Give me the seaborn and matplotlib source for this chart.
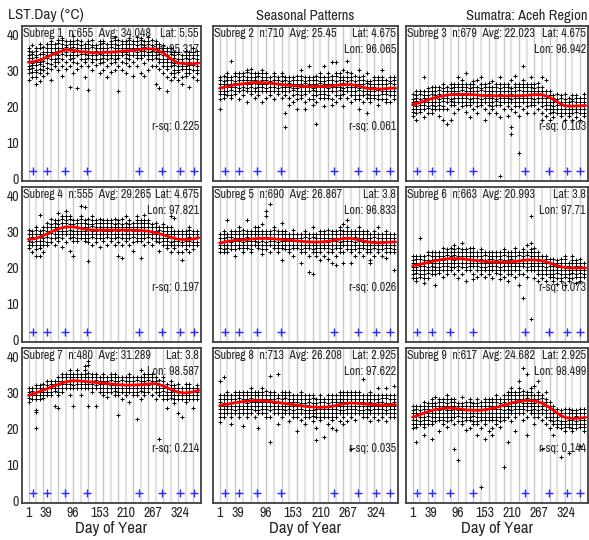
import numpy as np
import pandas as pd
import matplotlib
matplotlib.use("Agg")
import matplotlib.pyplot as plt
import matplotlib.font_manager as fm
import seaborn as sns

# ---------------- data ----------------
DAYS = list(range(1, 362, 8))  # 46 composite days
XTICKS = [1, 39, 96, 153, 210, 267, 324]
YTICKS = [0, 10, 20, 30, 40]
GRID_DAYS = list(range(1, 366, 16))
MARK_DAYS = [11, 41, 79, 127, 237, 287, 325, 354]
CURVE_DAYS = [1, 17, 33, 49, 65, 81, 97, 113, 129, 145, 161, 177, 193, 209,
              225, 241, 257, 273, 289, 305, 321, 337, 353, 365]

names = [f"Subreg {i}" for i in range(1, 10)]
n_obs = [655, 710, 679, 555, 690, 663, 480, 713, 617]
avgs = ["34.048", "25.45", "22.023", "29.265", "26.867", "20.993", "31.289", "26.208", "24.682"]
lats = ["5.55", "4.675", "4.675", "4.675", "3.8", "3.8", "3.8", "2.925", "2.925"]
lons = ["95.317", "96.065", "96.942", "97.821", "96.833", "97.71", "98.587", "97.622", "98.499"]
rsq = ["0.225", "0.061", "0.103", "0.197", "0.026", "0.073", "0.214", "0.035", "0.144"]

curve1 = [32.2, 32.5, 33.2, 34.2, 35.0, 35.7, 35.5, 35.2, 35.0, 34.8, 35.0, 35.0, 35.2, 35.4, 35.5, 35.8, 36.0, 35.8, 34.8, 33.2, 32.0, 31.8, 31.8, 32.0]
curve2 = [25.0, 25.5, 26.0, 26.2, 26.5, 26.6, 26.5, 26.3, 26.0, 25.8, 25.6, 25.5, 25.5, 25.5, 25.5, 25.8, 26.0, 26.0, 25.6, 25.0, 24.8, 24.8, 25.0, 25.0]
curve3 = [20.5, 21.0, 21.8, 22.4, 22.9, 23.2, 23.3, 23.3, 23.2, 23.0, 22.9, 22.9, 22.9, 22.9, 22.9, 23.0, 23.2, 23.2, 22.5, 21.2, 20.1, 20.0, 20.1, 20.2]
curve4 = [27.7, 28.0, 28.8, 29.8, 30.7, 31.2, 31.2, 30.8, 30.4, 30.3, 30.3, 30.3, 30.3, 30.3, 30.3, 30.2, 30.0, 29.6, 29.0, 28.3, 27.8, 27.7, 27.8, 28.2]
curve5 = [26.7, 27.2, 27.5, 27.6, 27.8, 28.0, 28.0, 27.9, 27.7, 27.5, 27.3, 27.1, 27.0, 27.0, 27.2, 27.6, 28.0, 28.0, 27.6, 27.1, 26.8, 26.8, 27.0, 27.0]
curve6 = [20.4, 20.8, 21.3, 21.8, 22.2, 22.4, 22.4, 22.2, 21.9, 21.7, 21.5, 21.4, 21.4, 21.5, 21.7, 22.0, 22.0, 21.8, 21.2, 20.4, 19.9, 19.8, 19.8, 19.8]
curve7 = [29.1, 29.8, 30.6, 31.4, 32.2, 32.9, 33.2, 33.1, 32.9, 32.7, 32.5, 32.3, 32.1, 32.0, 32.0, 32.1, 32.3, 32.4, 31.8, 30.8, 30.0, 29.8, 30.1, 30.5]
curve8 = [26.3, 26.7, 27.1, 27.4, 27.6, 27.7, 27.6, 27.3, 27.0, 26.7, 26.4, 26.1, 25.9, 25.8, 25.9, 26.3, 26.8, 27.0, 26.9, 26.7, 26.5, 26.4, 26.5, 26.5]
curve9 = [23.1, 23.8, 24.6, 25.2, 25.5, 25.6, 25.4, 25.1, 25.0, 25.0, 25.3, 25.8, 26.4, 27.0, 27.5, 27.7, 27.6, 27.0, 25.8, 24.2, 23.0, 22.7, 22.8, 23.0]
curves = [curve1, curve2, curve3, curve4, curve5, curve6, curve7, curve8, curve9]

# per-column observations (columns separated by "|", in DAYS order)
obs1 = """27.4 29.1 30.3 31.2 32.6 33.4 34.1 35.3 36.2|28.2 29.5 30.7 31.4 32.1 33.3 34.6 35.2 37.1|26.3 28.1 29.4 30.2 31.5 32.3 33.6 34.2 35.4 36.3|
27.1 29.3 30.4 31.6 32.2 33.1 34.5 36.1 37.3|28.4 30.2 31.1 32.5 33.3 34.4 35.2 36.5|29.2 30.5 32.1 33.3 34.2 35.1 36.3 37.4|
27.2 30.4 31.6 33.1 34.3 35.2 36.1 37.3 38.1|31.3 32.4 33.2 34.5 35.1 36.3 37.2|30.1 32.2 33.5 34.1 35.4 36.2 37.5 38.3|
28.3 31.1 33.2 34.4 35.3 36.1 37.2 38.4 39.1|30.4 32.3 34.1 35.2 36.4 37.1 38.2|25.2 31.3 33.1 34.3 35.5 36.2 37.4 38.1|
29.1 32.2 33.4 34.2 35.1 36.5 37.3 38.2 39.4|25.1 30.3 32.1 34.2 35.3 36.1 37.2 38.4|31.2 33.1 34.4 35.2 36.3 37.1 38.2|
28.1 32.3 33.2 34.5 35.1 36.2 37.4|24.6 31.1 33.3 34.2 35.4 36.1 37.3 38.2|30.2 32.4 33.1 34.3 35.2 36.4 37.1 38.5|
31.4 33.2 34.1 35.3 36.2 37.1|29.3 32.1 33.2 34.4 35.1 36.3 37.2 38.1|30.1 32.2 33.4 34.1 35.3 36.2 37.5 38.2|
28.2 31.3 33.1 34.2 35.4 36.1 37.2|29.4 32.1 33.3 34.2 35.1 36.4 37.2 38.1|30.2 32.4 33.1 34.3 35.2 36.1 37.3 38.4 39.2|
24.3 31.2 33.4 34.1 35.3 36.2 37.1 38.3|30.1 32.3 34.2 35.1 36.3 37.2 38.1|29.2 32.1 33.3 34.4 35.2 36.1 37.3 38.2|
31.1 33.2 34.3 35.4 36.1 37.2 38.3 39.1|28.4 32.2 34.1 35.3 36.2 37.4 38.1|31.2 33.4 34.2 35.1 36.3 37.1 38.2 39.3|
29.1 33.3 34.2 35.4 36.1 37.2 38.4 39.1|28.3 32.1 34.2 35.3 36.4 37.1 38.2|30.2 33.1 34.3 35.2 36.1 37.4 38.2 39.2|
31.3 33.2 34.1 35.4 36.2 37.1 38.3|26.2 31.1 33.3 34.2 35.1 36.3 37.2 38.1|25.1 30.3 32.2 33.1 34.4 35.2 36.1 37.3|
29.2 31.1 32.4 33.2 34.1 35.3 36.2 37.1|24.2 28.1 30.3 31.2 32.4 33.1 34.2 35.3 36.1|27.3 29.1 31.2 32.3 33.1 34.4 35.2 36.3|
28.1 29.3 30.2 31.4 32.1 33.3 34.2 35.1|27.2 29.4 30.1 31.3 32.2 33.1 34.4 35.2|26.1 28.2 30.3 31.1 32.4 33.2 34.1|
28.3 29.1 30.4 31.2 32.1 33.3 34.2 35.4|25.2 29.1 30.3 31.4 32.2 33.1 34.3 35.2|28.1 30.2 31.4 32.1 33.3 34.2 35.1 36.3|
27.2 29.3 30.1 31.2 32.4 33.1 34.2 35.3"""

obs2 = """19.2 22.1 23.3 24.2 25.1 26.3 27.2 28.1|22.2 23.4 24.1 25.3 26.2 27.1 28.3|23.1 24.2 25.4 26.1 27.3 28.2 29.1|
32.6 22.3 23.1 24.4 25.2 26.1 27.3 28.2|23.3 24.1 25.2 26.4 27.1 28.3 29.2|22.1 24.3 25.1 26.2 27.4 28.1 29.3|
23.2 24.4 25.3 26.1 27.2 28.4 29.1|21.1 24.2 25.1 26.3 27.2 28.1 29.4 30.2|23.4 24.1 25.2 26.1 27.3 28.2 29.1 30.3|
22.2 24.3 25.1 26.4 27.2 28.1 29.3|23.1 24.2 25.4 26.2 27.1 28.3 29.2|21.3 24.1 25.2 26.3 27.4 28.2 29.1 30.1|
22.4 24.2 25.1 26.2 27.3 28.1 29.2|23.2 24.1 25.3 26.4 27.1 28.2|22.1 24.3 25.2 26.1 27.2 28.4 29.1|
23.3 24.2 25.1 26.3 27.2 28.1|22.2 24.1 25.4 26.2 27.1 28.3 29.2|14.1 18.2 23.1 24.3 25.2 26.1 27.4 28.2|
20.2 22.3 24.1 25.2 26.4 27.1 28.2|21.1 23.2 24.4 25.1 26.2 27.3 28.1|19.2 22.1 23.3 24.2 25.1 26.3 27.2 28.4|
22.3 23.1 24.2 25.4 26.1 27.2 28.3 30.1|19.1 21.2 23.3 24.1 25.2 26.4 27.1 28.2|22.1 24.2 25.3 26.1 27.2 28.1 31.2|
20.3 22.1 23.2 24.4 25.1 26.2 27.3 28.1|15.1 21.2 23.1 24.2 25.3 26.1 27.2 28.4|22.2 23.3 24.1 25.2 26.4 27.1 28.2 29.1|
20.1 22.2 23.4 24.1 25.2 26.3 27.1 28.2 31.3|22.3 23.1 24.2 25.1 26.3 27.4 28.1 29.2|20.2 22.1 24.3 25.2 26.1 27.2 28.4 32.2|
21.1 23.2 24.1 25.3 26.2 27.1 28.3 29.1 32.4|22.2 23.1 24.4 25.2 26.1 27.3 28.2 29.3|20.1 23.3 24.2 25.1 26.4 27.2 28.1 30.2|
22.3 24.1 25.2 26.3 27.1 28.2 29.4 32.7|21.2 23.1 24.3 25.2 26.1 27.4 28.2 29.1|22.1 23.2 24.1 25.3 26.2 27.1 28.3|
19.3 22.1 23.2 24.4 25.1 26.2 27.3 28.1 30.2|21.2 23.1 24.2 25.3 26.1 27.2 28.4|18.1 22.2 23.3 24.1 25.2 26.4 27.1 29.2|
21.1 22.3 23.2 24.1 25.3 26.2 27.1|22.2 23.1 24.3 25.2 26.1 27.3 28.2|20.3 22.1 23.2 24.4 25.1 26.2 27.3 28.1|
22.1 23.3 24.2 25.1 26.2 27.4 28.1 30.2|21.2 22.1 23.3 24.2 25.1 26.3 27.2|21.3 23.2 24.1 25.2 26.4 27.1 28.2|
22.1 23.2 24.3 25.1 26.2 27.3 28.1"""

obs3 = """17.2 18.3 19.1 20.4 21.2 22.1 23.3|16.1 18.2 19.3 20.1 21.4 22.2 23.1 24.2|18.3 19.1 20.2 21.3 22.1 23.4 24.1|
17.1 19.2 20.3 21.1 22.2 23.1 24.3 28.2|18.2 19.4 20.1 21.2 22.3 23.1 24.2 25.1|18.1 19.2 20.4 21.1 22.2 23.3 24.1 25.4|
19.3 20.1 21.2 22.4 23.1 24.2 25.3|17.2 19.1 20.3 21.2 22.1 23.3 24.4 25.2|16.2 19.3 20.1 21.4 22.2 23.1 24.3 25.1 26.2|
15.1 19.2 21.1 22.3 23.2 24.1 25.4|16.3 20.2 21.4 22.1 23.3 24.2 25.1 26.3|18.1 20.3 21.1 22.2 23.4 24.1 25.2 26.1|
19.2 21.1 22.3 23.2 24.1 25.3 26.2 28.1|20.1 21.3 22.2 23.1 24.4 25.2 26.1 27.3|18.3 20.2 21.1 22.4 23.2 24.1 25.3 26.2 29.1|
17.1 20.2 21.3 22.1 23.4 24.2 25.1 26.3|19.2 21.1 22.2 23.3 24.1 25.4 26.2 27.1|18.2 20.1 21.3 22.2 23.1 24.3 25.2 27.3|
20.3 21.2 22.1 23.2 24.4 25.1 26.3 28.1|16.2 19.1 21.2 22.3 23.1 24.2 25.4 26.1|18.1 20.3 21.1 22.2 23.3 24.1 25.2 26.4|
19.3 20.1 21.2 22.4 23.1 24.3 25.2 27.1|18.2 20.2 21.4 22.1 23.2 24.1 25.3 26.2|0.6 17.1 20.3 21.1 22.2 23.4 24.2 25.1 26.3 28.2|
19.1 21.2 22.3 23.1 24.2 25.4 26.1|17.2 20.1 21.3 22.2 23.1 24.3 25.2 26.1|12.2 14.1 19.3 21.2 22.1 23.3 24.2 25.1 27.2|
18.3 20.1 21.2 22.4 23.1 24.2 25.3 26.1 28.3|7.0 17.2 20.1 21.3 22.2 23.1 24.4 25.2 26.1|19.1 21.3 22.2 23.1 24.3 25.2 26.1 27.2 31.3|
18.2 20.1 21.2 22.3 23.1 24.2 25.4 26.1|20.2 21.1 22.3 23.2 24.1 25.3 26.2 28.2|18.1 20.3 21.2 22.1 23.4 24.2 25.1 26.3|
19.2 21.1 22.2 23.3 24.1 25.2 26.4|16.1 18.2 20.1 21.3 22.2 23.1 24.3 25.2 28.1|17.3 19.1 20.2 21.1 22.4 23.2 24.1 27.2|
16.2 18.1 19.3 20.2 21.1 22.3 23.2 24.1|17.1 18.3 19.2 20.1 21.2 22.4 23.1|18.2 19.1 20.3 21.2 22.1 23.3|
17.3 18.1 19.2 20.4 21.1 22.2 23.1|16.1 18.2 19.1 20.3 21.2 22.1 23.4|17.2 18.1 19.3 20.2 21.1 22.3|
16.3 18.2 19.1 20.2 21.4 22.1 23.2|17.1 18.3 19.2 20.1 21.3 22.2 23.1|16.2 18.1 19.3 20.2 21.1 22.4|
17.2 18.1 19.2 20.3 21.1 22.2 23.3"""

obs4 = """25.2 26.1 27.3 28.2 29.1 30.3|24.1 26.3 27.1 28.4 29.2 30.1|23.2 25.1 26.2 27.3 28.1 29.2 30.4 31.1|
23.1 25.3 26.1 27.2 28.3 29.1 30.2 34.6|24.2 26.1 27.3 28.1 29.2 30.4 31.1|26.2 27.1 28.3 29.2 30.1 31.3 32.2|
27.1 28.2 29.4 30.1 31.2 32.1 33.3|26.3 28.1 29.2 30.3 31.1 32.4 33.1|27.2 28.4 29.1 30.2 31.3 32.1 33.2 35.1|
25.6 28.1 29.3 30.2 31.1 32.2 33.4 34.1|27.1 29.2 30.1 31.3 32.2 33.1 34.3 35.6|24.6 28.2 29.1 30.3 31.2 32.1 33.3 34.2|
23.1 27.2 28.3 29.1 30.2 31.4 32.1 33.2|27.3 28.1 29.2 30.1 31.3 32.2 33.1|28.1 29.3 30.2 31.1 32.2 33.4 34.1 37.1|
27.2 28.1 29.3 30.2 31.1 32.3 33.2 36.6|21.6 27.1 28.2 29.1 30.3 31.2 32.1 33.4|26.2 28.3 29.1 30.2 31.4 32.1 33.2 34.1|
27.1 28.2 29.3 30.1 31.2 32.3 33.1|25.6 28.1 29.2 30.4 31.1 32.2 33.3|27.3 28.1 29.2 30.1 31.3 32.2 33.1|
26.1 28.3 29.1 30.2 31.1 32.4 33.2|27.2 28.1 29.3 30.2 31.1 32.3 33.1|26.3 28.2 29.1 30.3 31.2 32.1 33.3|
23.2 27.1 28.3 29.2 30.1 31.3 32.2 33.1|22.6 26.1 28.2 29.1 30.4 31.2 32.1 33.3|27.2 28.1 29.3 30.2 31.1 32.2 34.1|
26.1 28.2 29.1 30.3 31.2 32.1 33.2|24.6 27.1 28.3 29.2 30.1 31.3 32.2|27.3 28.1 29.2 30.1 31.2 32.4 33.1 34.2|
22.6 27.2 28.1 29.3 30.2 31.1 32.3 33.2|26.2 28.1 29.2 30.1 31.3 32.2 33.1 34.6|27.1 28.3 29.1 30.2 31.1 32.3 33.2|
26.3 28.1 29.2 30.1 31.2 32.1|27.2 28.1 29.3 30.2 31.1 32.2|24.6 27.1 28.2 29.1 30.3 31.2|
26.1 27.3 28.1 29.2 30.1 31.3 32.1|25.2 26.1 27.3 28.2 29.1 30.2 31.1|24.1 26.2 27.1 28.3 29.2 30.1 31.2 34.1|
25.3 26.1 27.2 28.1 29.3 30.2 33.6|24.2 26.1 27.3 28.2 29.1 30.1|22.1 24.3 26.2 27.1 28.2 29.3 30.1|
25.1 26.3 27.2 28.1 29.2 30.2|24.2 26.1 27.2 28.3 29.1 30.3 31.1|25.1 26.2 27.1 28.2 29.3 30.1|
26.2 27.1 28.3 29.1 30.2"""

obs5 = """24.1 25.2 26.3 27.1 28.2 29.1|24.2 25.1 26.2 27.3 28.1 29.2 30.1|24.3 25.2 26.1 27.2 28.3 29.1 33.2|
25.1 26.2 27.1 28.3 29.2 30.1|23.2 25.1 26.3 27.2 28.1 29.3 30.2|25.2 26.1 27.3 28.2 29.1 30.2 31.1|
24.1 25.3 26.2 27.1 28.2 29.1 30.3|25.2 26.1 27.2 28.3 29.1 30.2 33.1|24.3 25.1 26.2 27.3 28.1 29.2 30.1|
26.1 27.3 28.2 29.1 30.2 31.1|25.2 26.3 27.1 28.2 29.3 30.1 31.2|23.6 25.1 26.2 27.3 28.1 29.2 30.1 32.1|
25.1 26.2 27.1 28.3 29.2 30.1 34.1 35.6|24.2 26.1 27.2 28.1 29.3 30.2 37.6|25.3 26.1 27.2 28.2 29.1 30.3 31.2|
24.1 25.2 26.3 27.1 28.2 29.1 30.2|22.1 25.2 26.1 27.3 28.2 29.1 30.1 32.2|25.1 26.3 27.2 28.1 29.2 30.1|
24.2 25.1 26.2 27.3 28.1 29.2|23.1 25.3 26.1 27.2 28.2 29.1 30.3|25.2 26.1 27.3 28.1 29.2|
21.1 24.2 25.1 26.3 27.2 28.1 29.2|24.1 25.2 26.1 27.2 28.3 29.1 30.1|18.6 23.1 25.2 26.1 27.3 28.2 29.1|
18.1 24.2 25.1 26.2 27.1 28.3 29.2 31.1|23.2 24.1 25.3 26.2 27.1 28.2 29.1|22.1 24.3 25.2 26.1 27.2 28.1 29.3 30.1|
23.1 25.2 26.1 27.3 28.2 29.1 30.2|22.2 24.1 25.3 26.2 27.1 28.2 29.1 30.3|21.1 24.2 25.1 26.3 27.2 28.1 29.2 30.1|
20.6 23.1 25.2 26.1 27.3 28.2 29.1 30.2|24.1 25.3 26.2 27.1 28.2 29.1 30.3 31.1|21.2 24.1 26.2 27.3 28.1 29.2 30.1 32.1|
25.1 26.2 27.3 28.1 29.2 30.1 31.2 33.1|21.1 24.2 25.1 26.3 27.2 28.1 29.2 30.1|23.2 25.1 26.2 27.1 28.3 29.2 30.1|
24.1 25.2 26.1 27.3 28.2 29.1 30.2 31.1|23.1 25.3 26.2 27.1 28.2 29.1 30.1|24.2 25.1 26.3 27.2 28.1 29.2 30.2|
21.2 22.1 24.2 25.1 26.3 27.2 28.1 29.1|23.1 25.2 26.1 27.2 28.3 29.1 30.2|24.2 25.1 26.2 27.1 28.2 29.3 31.1|
23.2 25.1 26.3 27.2 28.1 29.2|22.6 24.1 25.2 26.1 27.3 28.2 29.1 30.1|24.1 25.3 26.2 27.1 28.2 29.1|
19.1 24.2 25.1 26.2 27.3 28.1 29.2"""

obs6 = """17.1 18.2 19.3 20.1 21.2 22.1 23.2|16.2 17.1 18.3 19.2 20.1 21.2 22.3 23.1|17.2 18.1 19.2 20.3 21.1 22.2 23.1 28.1|
15.6 17.1 18.2 19.1 20.2 21.3 22.1 23.2|17.1 18.3 19.2 20.1 21.2 22.1 23.3 24.1|18.2 19.1 20.3 21.2 22.1 23.2 24.1|
15.1 18.1 19.2 20.1 21.3 22.2 23.1 24.2|18.3 19.2 20.1 21.2 22.3 23.1 24.2|17.2 19.1 20.2 21.3 22.1 23.2 24.1 25.2|
18.1 19.3 20.2 21.1 22.2 23.3 24.1 25.1|19.2 20.1 21.3 22.2 23.1 24.2 25.3|18.2 20.1 21.2 22.1 23.3 24.2 25.1 26.2|
17.1 19.3 20.2 21.1 22.2 23.1 24.3 25.2|18.2 20.1 21.2 22.3 23.1 24.2 25.1 26.6|16.1 19.2 20.1 21.3 22.2 23.1 24.2 25.1|
19.1 20.3 21.2 22.1 23.2 24.1 25.3|16.6 18.1 20.2 21.1 22.3 23.2 24.1 25.2|17.2 19.1 20.3 21.2 22.1 23.2 24.1|
18.1 19.2 20.1 21.3 22.2 23.1 24.2 25.1|17.3 19.2 20.1 21.2 22.1 23.3 24.2|18.2 19.1 20.3 21.1 22.2 23.1 24.3|
17.1 19.3 20.2 21.1 22.3 23.2 24.1|18.3 19.1 20.2 21.3 22.1 23.2 24.1|16.6 18.1 19.2 20.1 21.2 22.3 23.1 24.2|
17.2 19.1 20.3 21.2 22.1 23.3 24.2 25.1|16.1 18.2 19.1 20.2 21.3 22.1 23.2 24.1|18.1 19.3 20.2 21.1 22.2 23.1 24.3|
17.3 19.1 20.2 21.3 22.1 23.2 24.1 25.2|15.1 18.2 19.1 20.3 21.2 22.1 23.3 24.2|11.5 18.1 20.2 21.1 22.3 23.2 24.1 25.1|
17.2 19.3 20.1 21.2 22.1 23.3 24.2 26.1|5.6 19.1 20.2 21.3 22.2 23.1 24.2 25.1 26.6 34.1|17.1 19.2 20.3 21.1 22.2 23.1 24.3 25.2|
16.2 18.1 19.3 20.2 21.1 22.2 23.1 24.1|17.1 18.2 19.1 20.3 21.2 22.1 23.2|16.3 18.1 19.2 20.1 21.3 22.2 23.1|
17.2 18.1 19.3 20.2 21.1 22.2|16.1 17.3 18.2 19.1 20.2 21.1 22.3|15.2 17.1 18.3 19.2 20.1 21.2 22.1|
16.2 17.1 18.2 19.3 20.1 21.2 22.2|15.1 17.2 18.1 19.2 20.3 21.1 22.2 23.1|16.3 17.1 18.2 19.1 20.2 21.3|
17.1 18.3 19.2 20.1 21.2 22.1 23.2|15.6 17.2 18.1 19.3 20.2 21.1 22.1|16.1 17.2 18.3 19.1 20.2 21.1 22.3|
17.3 18.1 19.2 20.1 21.2"""

obs7 = """27.2 28.3 29.1 30.2 31.1|28.1 29.2 30.3 31.1|20.1 24.6 25.1 28.2 29.3 30.1 31.2 32.1|
28.2 29.1 30.2 31.3 32.1|28.3 29.2 30.1 31.2 32.2|29.1 30.2 31.3 32.1 33.2|
29.2 30.1 31.2 32.3 33.1|26.1 30.3 31.1 32.2 33.1|25.6 29.1 30.2 31.3 32.1 33.2 34.1|
30.2 31.1 32.2 33.1 34.3 35.1|31.1 32.3 33.2 34.1 35.2|29.2 31.1 32.2 33.3 34.1 35.2 36.1|
26.1 31.2 32.1 33.2 34.3 35.1|31.3 32.2 33.1 34.2 35.1 36.2|29.1 31.2 32.3 33.1 34.2 35.1|
31.1 32.2 33.1 34.3 35.2 36.1 37.2|26.1 31.3 32.2 33.1 34.2 35.3 37.6 38.6|30.2 31.1 32.3 33.2 34.1 35.2|
26.1 31.2 32.1 33.3 34.2 35.1|30.1 31.2 32.2 33.1 34.3|29.2 30.1 31.3 32.2 33.1 34.2 35.1|
28.6 30.2 31.1 32.3 33.2 34.1|30.1 31.2 32.1 33.3 34.2 35.1|29.1 30.3 31.2 32.1 33.2 34.3 35.2|
23.6 29.2 30.1 31.2 32.3 33.1 34.2|28.1 30.2 31.1 32.2 33.3 34.1|29.3 30.1 31.2 32.1 33.2 34.1|
27.2 30.1 31.3 32.2 33.1 34.2 35.1|29.1 30.2 31.1 32.3 33.2 34.1|22.6 29.2 30.1 31.2 32.1 33.3 34.2|
28.1 30.3 31.2 32.1 33.2 34.1 36.1|29.2 30.1 31.3 32.2 33.1 34.2 35.1|30.1 31.2 32.1 33.3 34.2 35.1|
29.3 31.1 32.2 33.1 34.2 35.2|28.1 30.2 31.1 32.3 33.2 34.1|17.1 29.2 30.1 31.2 32.1 33.3|
28.2 29.1 30.3 31.2 32.1 33.2 34.1|25.6 28.1 29.2 30.1 31.3 32.2|28.3 29.2 30.1 31.2 32.1 33.2|
27.1 28.2 29.1 30.3 31.2 32.1|24.1 28.2 29.1 30.2 31.1 32.3|23.1 28.1 29.3 30.2 31.1|
27.2 28.1 29.2 30.1 31.3 32.2|28.1 29.3 30.2 31.1 32.2|25.6 28.2 29.1 30.3 31.2|
28.1 29.2 30.1 31.2 32.1"""

obs8 = """21.6 23.1 24.2 25.3 26.1 27.2 28.1 29.2 33.1|23.2 24.1 25.2 26.3 27.1 28.2 29.1 34.1|24.1 25.3 26.2 27.1 28.2 29.3 30.1|
21.1 23.2 24.1 25.2 26.3 27.1 28.2 29.1|24.2 25.1 26.2 27.3 28.1 29.2 30.1|23.1 24.3 25.2 26.1 27.2 28.3 29.1 30.2|
20.6 24.1 25.2 26.1 27.3 28.2 29.1 30.2|23.2 24.1 25.3 26.2 27.1 28.2 29.3 30.1|24.1 25.2 26.1 27.2 28.3 29.1 30.2 31.1|
23.2 25.1 26.3 27.2 28.1 29.2 30.1|20.1 24.2 25.1 26.2 27.3 28.1 29.2 30.1|24.3 25.2 26.1 27.2 28.1 29.3 30.2 31.1|
23.1 24.2 25.3 26.1 27.2 28.1 29.2 30.3|16.1 23.2 25.1 26.2 27.3 28.1 29.2 30.1 34.6|24.1 25.2 26.3 27.1 28.2 29.1 30.2|
21.1 24.3 25.2 26.1 27.2 28.3 29.1 35.1|23.2 24.1 25.2 26.3 27.1 28.2 29.1 30.2|24.2 25.1 26.2 27.1 28.3 29.2 30.1|
22.1 24.2 25.3 26.1 27.2 28.1 29.2 30.1|23.1 24.2 25.1 26.3 27.2 28.1 29.2|19.1 23.2 24.1 25.2 26.1 27.3 28.2 29.1|
22.2 24.1 25.2 26.3 27.1 28.2 29.1 30.2|21.1 23.2 24.3 25.1 26.2 27.1 28.2 29.3|23.1 24.2 25.1 26.2 27.3 28.1 29.2|
22.1 23.3 24.2 25.1 26.2 27.1 28.3 29.1|16.6 20.1 23.2 24.1 25.3 26.2 27.1 28.2|22.2 23.1 24.2 25.3 26.1 27.2 28.1 29.2|
17.6 23.2 24.1 25.2 26.1 27.3 28.2|21.1 23.2 24.1 25.3 26.2 27.1 28.2 29.1|20.1 22.2 23.1 24.2 25.3 26.1 27.2 28.1 29.2|
19.6 23.1 24.3 25.2 26.1 27.2 28.1 29.3|22.1 24.2 25.1 26.3 27.2 28.1 29.2 30.1|21.2 23.1 24.2 25.1 26.3 27.2 28.1 29.2 30.2|
22.1 24.2 25.3 26.1 27.2 28.1 29.3 30.2|14.1 23.2 24.1 25.2 26.3 27.1 28.2 29.1 30.2|22.2 24.1 25.2 26.1 27.3 28.2 29.1 30.1|
24.2 25.1 26.3 27.2 28.1 29.2 30.1|23.1 24.2 25.1 26.2 27.3 28.1 29.2 33.6|23.2 24.1 25.3 26.2 27.1 28.2 29.1|
22.1 24.2 25.1 26.2 27.3 28.1 29.2 30.1|23.2 24.1 25.2 26.3 27.1 28.2 29.1|22.2 24.1 25.3 26.1 27.2 28.1 29.2 31.1|
23.1 24.3 25.2 26.1 27.2 28.3 29.1|22.1 24.2 25.1 26.2 27.1 28.3 29.2 31.1|23.2 24.1 25.2 26.3 27.1 28.2 29.1|
23.1 24.2 25.3 26.1 27.2 28.1 29.2 31.6"""

obs9 = """20.1 21.2 22.3 23.1 24.2 25.1 26.2|16.1 20.2 21.1 22.2 23.3 24.1 25.2 26.1|21.2 22.1 23.2 24.3 25.1 26.2|
18.1 20.2 21.1 22.3 23.2 24.1 25.2 26.1 27.2|21.1 22.2 23.3 24.1 25.2 26.1 27.1|17.1 21.2 22.1 23.2 24.3 25.1 26.2 27.1 28.2|
22.1 23.2 24.1 25.3 26.2 27.1 28.6|19.1 22.2 23.1 24.2 25.1 26.3 27.2 28.1|21.1 22.3 23.2 24.1 25.2 26.1 27.3 28.2|
20.2 22.1 23.2 24.3 25.1 26.2 27.1 28.1 29.2|22.2 23.1 24.2 25.1 26.3 27.2 28.1|14.1 21.2 23.1 24.2 25.3 26.1 27.2 28.1|
11.1 22.1 23.3 24.2 25.1 26.2 27.1|21.2 22.1 23.2 24.3 25.1 26.2 27.1 28.6|19.6 22.2 23.1 24.2 25.1 26.3 27.2|
20.1 22.3 23.2 24.1 25.2 26.1 27.3 28.2|21.2 22.1 23.3 24.2 25.1 26.2 27.1|18.1 21.2 22.1 23.2 24.3 25.1 26.2 27.1 28.1|
3.6 20.1 22.2 23.1 24.2 25.3 26.1 27.2|17.1 21.3 22.2 23.1 24.2 25.1 26.3 27.2 28.1|19.1 22.2 23.1 24.3 25.2 26.1 27.2 28.1|
18.2 20.1 22.3 23.2 24.1 25.2 26.1 27.3 28.2|21.1 22.2 23.1 24.2 25.3 26.1 27.2 28.1 29.2|20.2 22.1 23.2 24.1 25.2 26.3 27.1 28.2|
9.1 22.2 23.1 24.2 25.1 26.3 27.2 28.1 29.2|16.1 23.2 24.1 25.3 26.2 27.1 28.2 29.1 30.2|22.1 24.2 25.1 26.2 27.3 28.1 29.2 30.1 31.2|
19.1 23.2 24.1 25.2 26.3 27.1 28.2 29.1 30.2|24.1 25.2 26.1 27.3 28.2 29.1 30.2 31.1 33.1|22.2 24.1 25.3 26.2 27.1 28.2 29.1 30.3 36.6|
18.1 23.2 25.1 26.2 27.1 28.3 29.2 30.1 35.1|24.2 25.1 26.2 27.1 28.2 29.3 30.1 31.2|21.1 23.2 24.1 25.3 26.2 27.1 28.2 29.1 31.6|
23.1 24.2 25.1 26.2 27.3 28.1 29.2 30.1 33.1|14.1 22.2 24.1 25.2 26.1 27.2 28.3 29.1|21.2 23.1 24.2 25.1 26.3 27.2 28.1 30.2|
20.1 22.2 23.1 24.3 25.2 26.1 27.2|18.1 21.2 22.1 23.2 24.1 25.3 26.2|20.2 21.1 22.3 23.2 24.1 25.2|
12.1 20.1 21.2 22.1 23.3 24.2 25.1|19.1 20.3 21.2 22.1 23.2 24.1 25.2|13.1 20.2 21.1 22.2 23.1 24.3 25.2|
19.2 20.1 21.3 22.2 23.1 24.2 25.1|20.1 21.2 22.1 23.3 24.2 25.1|15.1 20.2 21.1 22.2 23.1 24.3 25.2|
19.1 20.2 21.1 22.3 23.2 24.1 25.2"""

obs_all = [obs1, obs2, obs3, obs4, obs5, obs6, obs7, obs8, obs9]

rows = []
for p, s in enumerate(obs_all):
    cols = [c for c in s.replace("\n", "").split("|")]
    for d, col in zip(DAYS, cols):
        for v in col.split():
            rows.append({"panel": p, "day": d, "lst": float(v)})
df = pd.DataFrame(rows)

# ---------------- fonts: prefer a narrow sans like the reference ----------------
sns.set_style("white")
narrow = None
for f in fm.fontManager.ttflist:
    nm = f.name
    if f.style != "normal":
        continue
    w = f.weight if isinstance(f.weight, int) else (400 if f.weight in ("normal", "regular", "book") else 700)
    if w > 500:
        continue
    if "Narrow" in nm or "Condensed" in nm:
        narrow = (nm, "normal")
        break
    if f.stretch in ("condensed", "semi-condensed") and narrow is None:
        narrow = (nm, f.stretch)
if narrow:
    FAM = [narrow[0], "Liberation Sans", "DejaVu Sans"]
    STRETCH = narrow[1]
    S_ANN, S_TTL, S_TICK, S_XL, S_LST = 8.6, 10.5, 10, 12, 11
else:
    FAM = ["Liberation Sans", "DejaVu Sans"]
    STRETCH = "normal"
    S_ANN, S_TTL, S_TICK, S_XL, S_LST = 7.2, 9.3, 9.5, 10, 9.8
plt.rcParams["font.family"] = FAM
plt.rcParams["font.stretch"] = STRETCH

W, H = 589, 540
fig = plt.figure(figsize=(W / 100, H / 100), dpi=100)

col_left = [22, 213, 406]
col_w = [179, 185, 182]
row_top = [26, 187, 348]
row_h = 155

for p in range(9):
    r, c = divmod(p, 3)
    ax = fig.add_axes([col_left[c] / W, 1 - (row_top[r] + row_h) / H, col_w[c] / W, row_h / H])
    ax.set_xlim(-13, 370)
    ax.set_ylim(-0.8, 42.3)
    for i, g in enumerate(GRID_DAYS):
        ax.axvline(g, color="#c8c8c8" if i % 2 == 0 else "#e2e2e2",
                   lw=1.0 if i % 2 == 0 else 1.6, zorder=0)
    sub = df[df.panel == p]
    ax.text(0.008, 0.985, f"{names[p]}  n:{n_obs[p]}  Avg: {avgs[p]}", transform=ax.transAxes,
            ha="left", va="top", fontsize=S_ANN, zorder=1)
    ax.text(0.988, 0.985, f"Lat: {lats[p]}", transform=ax.transAxes,
            ha="right", va="top", fontsize=S_ANN, zorder=1)
    ax.text(0.988, 0.885, f"Lon: {lons[p]}", transform=ax.transAxes,
            ha="right", va="top", fontsize=S_ANN, zorder=1)
    ax.text(0.988, 0.35, f"r-sq: {rsq[p]}", transform=ax.transAxes,
            ha="right", va="center", fontsize=S_ANN, zorder=1)
    sns.scatterplot(data=sub, x="day", y="lst", marker="+", s=6, linewidth=0.7,
                    color="black", ax=ax, zorder=2, legend=False)
    cdf = pd.DataFrame({"day": CURVE_DAYS, "lst": curves[p]})
    sns.lineplot(data=cdf, x="day", y="lst", color="#ff0000", lw=2.0, ax=ax, zorder=3)
    mdf = pd.DataFrame({"day": MARK_DAYS, "lst": [2] * len(MARK_DAYS)})
    sns.scatterplot(data=mdf, x="day", y="lst", marker="+", s=28, linewidth=1.0,
                    color="#2a2aff", ax=ax, zorder=3, legend=False)

    ax.set_xticks(XTICKS)
    ax.set_yticks(YTICKS)
    ax.tick_params(length=0, labelsize=S_TICK, pad=2)
    if r < 2:
        ax.set_xticklabels([])
    if c > 0:
        ax.set_yticklabels([])
    ax.set_ylabel("")
    ax.set_xlabel("Day of Year" if r == 2 else "", fontsize=S_XL, labelpad=1)
    for sp in ax.spines.values():
        sp.set_color("#404040")
        sp.set_linewidth(1.3)

fig.text(8 / W, 1 - 15 / H, "LST.Day (°C)", ha="left", va="center", fontsize=S_LST)
fig.text(305 / W, 1 - 16 / H, "Seasonal Patterns", ha="center", va="center", fontsize=S_TTL)
fig.text(587 / W, 1 - 16 / H, "Sumatra: Aceh Region", ha="right", va="center", fontsize=S_TTL)

fig.savefig("out.png", dpi=100)
